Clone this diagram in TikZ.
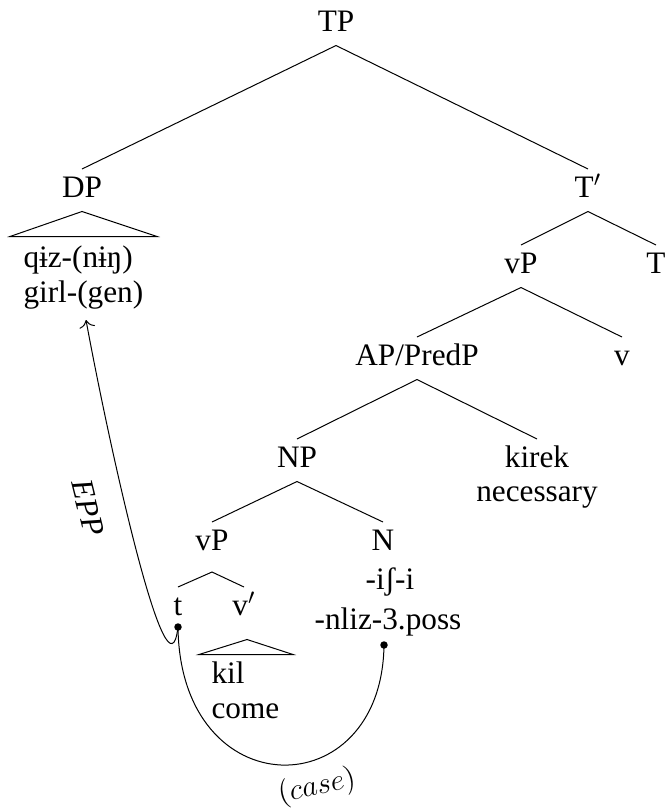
\documentclass[tikz,border=0pt]{standalone}
\usepackage{fontspec}
\setmainfont{Liberation Serif}
\usepackage{tikz}
\usetikzlibrary{arrows.meta,calc}

\begin{document}
\begin{tikzpicture}[x=0.4pt, y=-0.4pt,
    font=\fontsize{12.5}{14}\selectfont,
    cat/.style={anchor=base, inner sep=0pt, text height=11pt, text depth=5.6pt},
    leftcat/.style={cat, anchor=base west},
    dot/.style={circle, fill, inner sep=0pt, minimum size=3pt}]
  \useasboundingbox (0,0) rectangle (667,809);

  % categories
  \node[cat] (tp) at (336,31) {TP};
  \node[cat] (dp) at (82,197) {DP};
  \node[cat] (tbar) at (588,197) {T$'$};
  \node[cat] (vpr) at (521,273) {vP};
  \node[cat] (thead) at (656,273) {T};
  \node[cat] (ap) at (417,365) {AP/PredP};
  \node[cat] (vhead) at (622,365) {v};
  \node[cat] (np) at (297,467) {NP};
  \node[cat] (kirek) at (537,467) {kirek};
  \node[cat] (necessary) at (537,501) {necessary};
  \node[cat] (vpl) at (212,550) {vP};
  \node[cat] (nhead) at (383,550) {N};
  \node[cat] (nform) at (390,589) {-iʃ-i};
  \node[cat] (ngloss) at (388,629) {-nliz-3.poss};
  \node[cat] (trace) at (178,615) {t};
  \node[cat] (vbar) at (244,615) {v$'$};

  % words under triangles
  \node[leftcat] (dpform) at (23,267) {qɨz-(nɨŋ)};
  \node[leftcat] (dpgloss) at (23,302) {girl-(gen)};
  \node[leftcat] (kil) at (211,683) {kil};
  \node[leftcat] (come) at (211,718) {come};

  % branches
  \draw (tp.south) -- (dp.north);
  \draw (tp.south) -- (tbar.north);
  \draw (tbar.south) -- (vpr.north);
  \draw (tbar.south) -- (thead.north);
  \draw (vpr.south) -- (ap.north);
  \draw (vpr.south) -- (vhead.north);
  \draw (ap.south) -- (np.north);
  \draw (ap.south) -- (kirek.north);
  \draw (np.south) -- (vpl.north);
  \draw (np.south) -- (nhead.north);
  \coordinate (vpfork) at ([yshift=-3pt]vpl.south);
  \draw (trace.north) -- (vpfork) -- (vbar.north);

  % triangles
  \draw (dp.south) -- ++(-72,25) -- ++(147,0) -- cycle;
  \draw ([shift={(3,10)}]vbar.south) -- ++(-48,15) -- ++(94,0) -- cycle;

  % movement and case
  \coordinate (tdot) at (178,627);
  \coordinate (ndot) at (384,645);
  \coordinate (dparr) at (86,320);
  \node[dot] at (tdot) {};
  \node[dot] at (ndot) {};
  \draw[-{To[length=3pt]}] (tdot) .. controls (168,712) and (110,450) .. (dparr);
  \node[rotate=-76] (epp) at (88,508) {\textit{EPP}};
  \draw (tdot) .. controls (180,808) and (382,808) .. (ndot);
  \node[rotate=12] (case) at (317,787) {$(case)$};
\end{tikzpicture}
\end{document}
